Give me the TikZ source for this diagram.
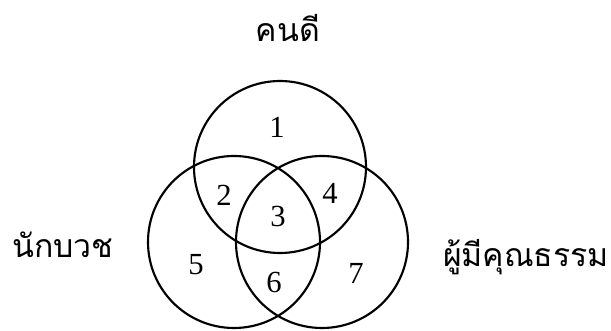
\documentclass[tikz,border=0pt]{standalone}
\usepackage{fontspec}
\usepackage{tikz}
\newfontfamily\thaifont[Script=Thai]{Loma}
\newfontfamily\numfont{Liberation Serif}

\begin{document}
\begin{tikzpicture}[x=0.75pt, y=-0.75pt,
    ring/.style={circle, draw=black, line width=1.6pt, minimum size=129pt, inner sep=0pt},
    setlabel/.style={font=\thaifont\fontsize{24}{28}\selectfont, anchor=base, inner sep=0pt},
    region/.style={font=\numfont\fontsize{23}{26}\selectfont, inner sep=0pt}]
    \useasboundingbox (0,0) rectangle (611,331);

    % the three sets
    \node [ring] (good) at (280,167) {};
    \node [ring] (monk) at (234,242) {};
    \node [ring] (moral) at (322,242) {};

    % set names
    \node [setlabel] (goodname) at (288,42) {คนดี};
    \node [setlabel] (monkname) at (63,258) {นักบวช};
    \node [setlabel] (moralname) at (526,267) {ผู้มีคุณธรรม};

    % regions
    \node [region] (r1) at (277,127) {1};
    \node [region] (r2) at (224,195) {2};
    \node [region] (r3) at (278,216) {3};
    \node [region] (r4) at (330,193) {4};
    \node [region] (r5) at (196,265) {5};
    \node [region] (r6) at (274,282) {6};
    \node [region] (r7) at (356,273) {7};
\end{tikzpicture}
\end{document}
